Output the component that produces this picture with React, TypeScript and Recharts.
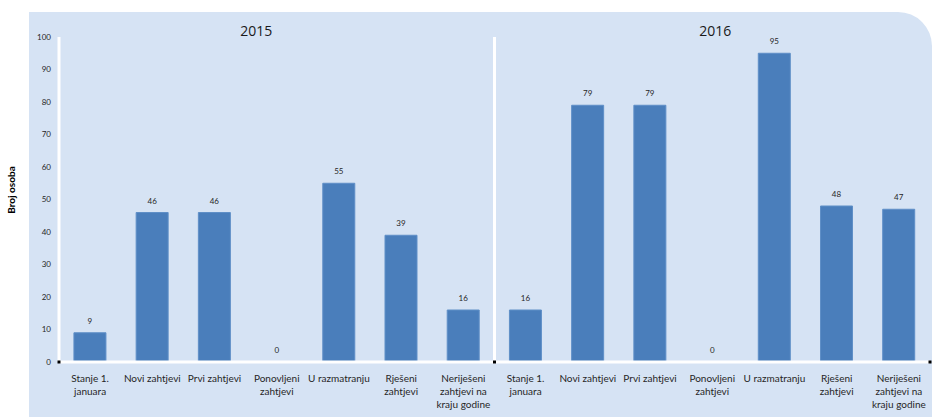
import {
  BarChart,
  Bar,
  XAxis,
  YAxis,
  LabelList,
  ReferenceLine,
  ReferenceDot,
} from 'recharts'

const years = ['2015', '2016']
const categoryLines = [
  ['Stanje 1.', 'januara'],
  ['Novi zahtjevi'],
  ['Prvi zahtjevi'],
  ['Ponovljeni', 'zahtjevi'],
  ['U razmatranju'],
  ['Rješeni', 'zahtjevi'],
  ['Neriješeni', 'zahtjevi na', 'kraju godine'],
]
const values2015 = [9, 46, 46, 0, 55, 39, 16]
const values2016 = [16, 79, 79, 0, 95, 48, 47]
const yTicks = [0, 10, 20, 30, 40, 50, 60, 70, 80, 90, 100]

const data = [values2015, values2016].flatMap((vals, y) =>
  vals.map((v, i) => ({
    key: `${years[y]}-${i}`,
    pos: y * vals.length + i + 0.5,
    value: v,
  }))
)

const FONT = 'Lato, "Open Sans", sans-serif'

function CategoryTick({ x, y, payload }: any) {
  const idx = Number(String(payload.value).split('-')[1])
  const lines = categoryLines[idx] || []
  return (
    <text x={x} y={y} textAnchor='middle' fontSize={10} fill='#262626' fontFamily={FONT}>
      {lines.map((l, i) => (
        <tspan key={i} x={x} dy={i === 0 ? 12 : 13}>
          {l}
        </tspan>
      ))}
    </text>
  )
}

const marker = (p: any) => (
  <rect x={p.cx - 1.5} y={p.cy - 1.5} width={3} height={3} fill='#000' />
)

const titleLabel = (value: string) => ({
  value,
  position: 'top' as const,
  offset: 1,
  fontSize: 14,
  fontWeight: 400,
  fill: '#1a1a1a',
  fontFamily: '"Open Sans", sans-serif',
})

const valueLabelStyle = { fontSize: 8, fill: '#262626', fontFamily: FONT }

export default function App() {
  return (
    <div style={{ position: 'absolute', left: 0, top: 0, width: 932, height: 417, background: '#fff', fontFamily: FONT }}>
      <div
        style={{
          position: 'absolute',
          left: 29,
          top: 12,
          width: 903,
          height: 405,
          background: '#D6E3F4',
          borderTopRightRadius: 34,
        }}
      />
      <div style={{ position: 'absolute', left: 0, top: 0 }}>
        <BarChart
          width={932}
          height={417}
          data={data}
          margin={{ top: 37, right: 2, bottom: 0, left: 29 }}
          barCategoryGap='24%'
        >
          <XAxis
            dataKey='key'
            tickLine={false}
            axisLine={{ stroke: '#fff', strokeWidth: 3 }}
            tick={<CategoryTick />}
            interval={0}
            height={55}
          />
          <XAxis xAxisId='n' dataKey='pos' type='number' domain={[0, 14]} allowDataOverflow hide />
          <YAxis
            domain={[0, 100]}
            ticks={yTicks}
            width={30}
            tickLine={false}
            axisLine={{ stroke: '#fff', strokeWidth: 3 }}
            tick={{ fontSize: 8, fill: '#262626', fontFamily: FONT }}
            label={{
              content: () => (
                <text
                  x={15}
                  y={190}
                  transform='rotate(-90 15 190)'
                  textAnchor='middle'
                  fontSize={10}
                  fontWeight='bold'
                  fill='#000'
                  fontFamily={FONT}
                >
                  Broj osoba
                </text>
              ),
            }}
          />
          <ReferenceLine xAxisId='n' x={7} stroke='#fff' strokeWidth={3} />
          <ReferenceLine xAxisId='n' x={3.17} stroke='none' label={titleLabel(years[0])} />
          <ReferenceLine xAxisId='n' x={10.55} stroke='none' label={titleLabel(years[1])} />
          <ReferenceDot xAxisId='n' x={0} y={0} shape={marker} />
          <ReferenceDot xAxisId='n' x={7} y={0} shape={marker} />
          <ReferenceDot xAxisId='n' x={14} y={0} shape={marker} />
          {data
            .filter((d) => d.value === 0)
            .map((d) => (
              <ReferenceDot
                key={d.key}
                x={d.key}
                y={0}
                r={0}
                stroke='none'
                fill='none'
                label={{ value: String(d.value), position: 'top', offset: 9, ...valueLabelStyle }}
              />
            ))}
          <Bar dataKey='value' fill='#4A7EBB' stroke='#5f8fc7' strokeWidth={1} isAnimationActive={false}>
            <LabelList dataKey='value' position='top' offset={9} {...valueLabelStyle} />
          </Bar>
        </BarChart>
      </div>
    </div>
  )
}
